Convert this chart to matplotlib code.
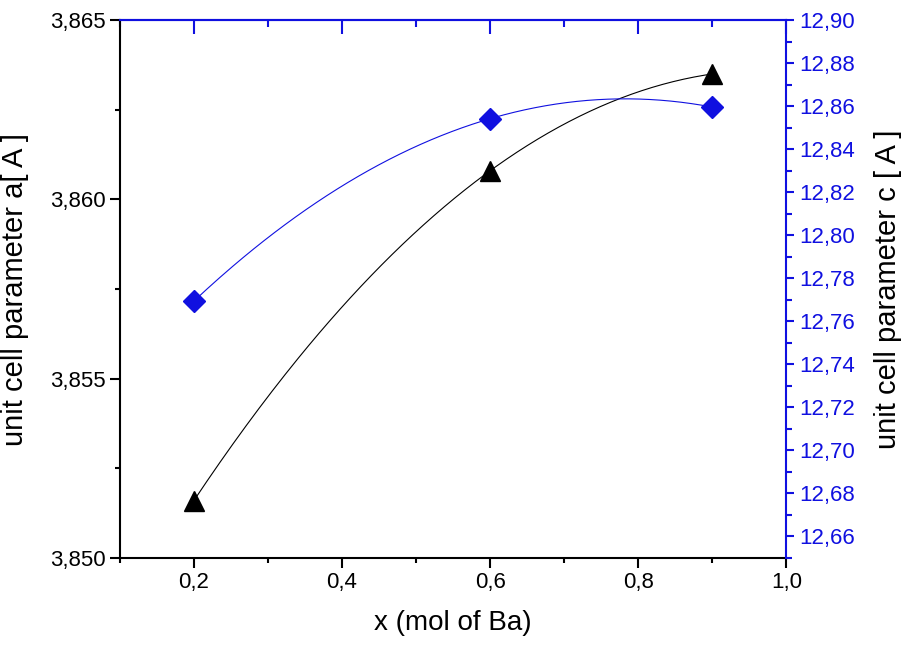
import numpy as np
import matplotlib
matplotlib.use('Agg')
import matplotlib.pyplot as plt
from matplotlib.ticker import FuncFormatter, MultipleLocator

plt.rcParams['font.family'] = ['Liberation Sans', 'DejaVu Sans']

# data
x_ba = [0.2, 0.6, 0.9]
param_a = [3.8516, 3.8608, 3.8635]
param_c = [12.7694, 12.8542, 12.8596]

blue = '#1010e0'


def comma_fmt(decimals):
    return FuncFormatter(lambda v, pos: ('%.*f' % (decimals, v)).replace('.', ','))


fig = plt.figure(figsize=(9.08, 6.51), dpi=100)
ax = fig.add_axes([0.132, 0.143, 0.734, 0.826])
ax2 = ax.twinx()

# smooth curves through the three points (quadratic through each set)
xs = np.linspace(min(x_ba), max(x_ba), 200)
fit_a = np.polyval(np.polyfit(x_ba, param_a, 2), xs)
fit_c = np.polyval(np.polyfit(x_ba, param_c, 2), xs)

ax.plot(xs, fit_a, color='black', lw=0.8)
ax.plot(x_ba, param_a, ls='none', marker='^', ms=14, color='black')
ax2.plot(xs, fit_c, color=blue, lw=0.8)
ax2.plot(x_ba, param_c, ls='none', marker='D', ms=11, color=blue)

ax.set_xlim(0.1, 1.0)
ax.set_ylim(3.850, 3.865)
ax2.set_ylim(12.65, 12.90)

ax.xaxis.set_major_locator(MultipleLocator(0.2))
ax.xaxis.set_minor_locator(MultipleLocator(0.1))
ax.yaxis.set_major_locator(MultipleLocator(0.005))
ax.yaxis.set_minor_locator(MultipleLocator(0.0025))
ax2.yaxis.set_major_locator(MultipleLocator(0.02))
ax2.yaxis.set_minor_locator(MultipleLocator(0.01))

ax.xaxis.set_major_formatter(comma_fmt(1))
ax.yaxis.set_major_formatter(comma_fmt(3))
ax2.yaxis.set_major_formatter(comma_fmt(2))

ax.tick_params(which='major', length=7, width=1.5, labelsize=16, direction='out')
ax.tick_params(which='minor', length=3.5, width=1.5, direction='out')
ax2.tick_params(which='major', length=6, width=1.5, labelsize=16, direction='out', colors=blue)
ax2.tick_params(which='minor', length=4, width=1.5, direction='out', colors=blue)

for s in ['left', 'bottom']:
    ax.spines[s].set_linewidth(1.5)
ax2.spines['right'].set_color(blue)
ax2.spines['right'].set_linewidth(1.5)
ax2.spines['top'].set_color(blue)
ax2.spines['top'].set_linewidth(1.5)
ax.spines['top'].set_visible(False)
ax.spines['right'].set_visible(False)
ax2.spines['left'].set_visible(False)
ax2.spines['bottom'].set_visible(False)

# inward blue ticks along the top edge
top = ax.secondary_xaxis('top')
top.xaxis.set_major_locator(MultipleLocator(0.2))
top.xaxis.set_minor_locator(MultipleLocator(0.1))
top.tick_params(which='major', direction='in', length=10, width=1.5, colors=blue, labeltop=False)
top.tick_params(which='minor', direction='in', length=5, width=1.5, colors=blue)
top.spines['top'].set_color(blue)
top.spines['top'].set_linewidth(1.5)

ax.set_xlabel('x (mol of Ba)', fontsize=20, labelpad=12)
ax.set_ylabel('unit cell parameter a[ A ]', fontsize=21)
ax2.set_ylabel('unit cell parameter c [ A ]', fontsize=21)
ax.yaxis.set_label_coords(-0.137, 0.5)
ax2.yaxis.set_label_coords(1.132, 0.5)

fig.savefig('out.png', dpi=100)
